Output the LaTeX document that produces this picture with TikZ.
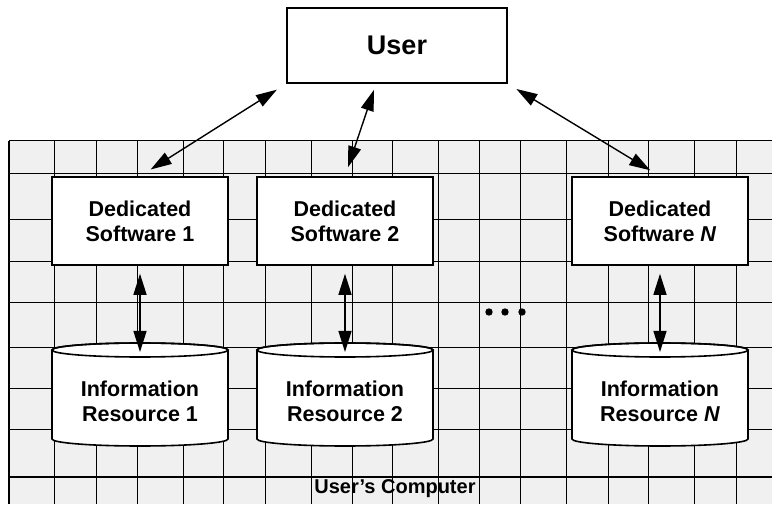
\documentclass[tikz,border=0pt]{standalone}
\usepackage{fontspec}
\setmainfont{Liberation Sans}
\usetikzlibrary{arrows.meta}

\begin{document}
\begin{tikzpicture}
  [x=0.5pt,y=0.5pt,
   box/.style={draw,line width=0.8pt,fill=white,minimum width=88pt,minimum height=44pt,
     align=center,font=\bfseries\fontsize{10.75}{12.5}\selectfont},
   store/.style={align=center,font=\bfseries\fontsize{10.75}{12.5}\selectfont},
   link/.style={{Triangle[length=10.5pt,width=6.5pt]}-{Triangle[length=10.5pt,width=6.5pt]},line width=0.7pt}]
  \useasboundingbox (0,0) rectangle (772,504);

  % the user's computer
  \fill[black!6] (9,0) rectangle (772,363);
  \foreach \x in {54,96,137,183,223,265,311,352,392,438,479,520,566,608,648,694,736}
    \draw[line width=0.5pt] (\x,0) -- (\x,363);
  \foreach \y in {27,74,115,156,201,242,284,330,363}
    \draw[line width=0.5pt] (9,\y) -- (772,\y);
  \draw[line width=1pt] (9,0) -- (9,363);

  \node[box,minimum width=110pt,minimum height=37.5pt,font=\bfseries\fontsize{13.5}{16}\selectfont] (user) at (397,458.5) {User};
  \node[box] (ds1) at (140,283) {Dedicated\\Software 1};
  \node[box] (ds2) at (345,283) {Dedicated\\Software 2};
  \node[box] (dsN) at (660,283) {Dedicated\\Software \textit{N}};

  % information resources
  \foreach \x/\n/\num in {140/1/1,345/2/2,660/N/\textit{N}} {
    \draw[line width=0.8pt,fill=white] (\x-88,154) -- (\x-88,65) arc (180:360:88 and 7)
      -- (\x+88,154) arc (0:180:88 and 7) -- cycle;
    \draw[line width=0.8pt] (\x,154) ellipse (88 and 7);
    \node[store] (ir\n) at (\x,103) {Information\\Resource \num};
    \coordinate (ir\n top) at (\x,152);
  }

  \draw[link,shorten <=5.5pt,shorten >=6.3pt] (user.south west) -- (ds1.north);
  \draw[link,shorten <=3.2pt,shorten >=4.7pt] ([xshift=-10.5pt]user.south) -- (ds2.north);
  \draw[link,shorten <=5pt,shorten >=5.7pt] (user.south east) -- (dsN.north);
  \foreach \n in {1,2,N}
    \draw[link,shorten <=4pt] (ds\n.south) -- (ir\n top);

  \foreach \x in {489,505,522}
    \fill (\x,192) circle (3.7);

  \node[store,font=\bfseries\fontsize{10}{12}\selectfont] (pc) at (395,15) {User’s Computer};
\end{tikzpicture}
\end{document}
